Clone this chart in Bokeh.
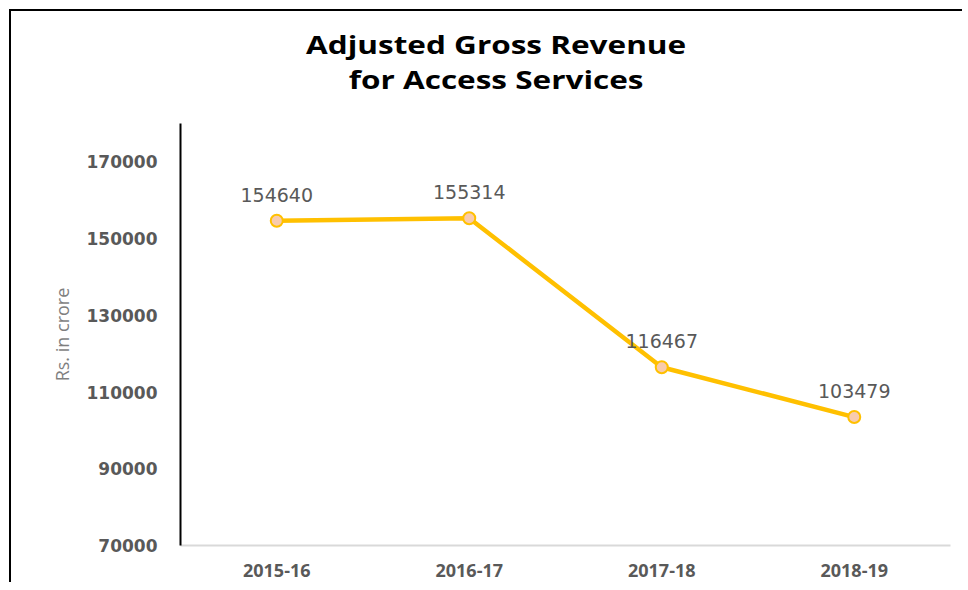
from bokeh.plotting import figure
from bokeh.models import (ColumnDataSource, LabelSet, FixedTicker, Range1d, FactorRange,
                          NumeralTickFormatter, Div)
from bokeh.layouts import column
from bokeh.core.properties import value
from bokeh.embed import file_html
from bokeh.resources import INLINE

years = ["2015-16", "2016-17", "2017-18", "2018-19"]
agr = [154640, 155314, 116467, 103479]
y_ticks = [70000, 90000, 110000, 130000, 150000, 170000]
title_lines = ["Adjusted Gross Revenue", "for Access Services"]
y_title = "Rs. in crore"

src = ColumnDataSource(dict(x=years, y=agr, lab=[str(v) for v in agr]))

W = 952
title_div = Div(
    text=('<div style="width:%dpx;box-sizing:border-box;padding-left:24px;padding-top:22px;'
          'text-align:center;font-family:\'Open Sans\';font-weight:bold;font-size:25px;'
          'line-height:35px;color:black;transform:scaleX(1.26);">%s<br>%s</div>')
         % (W, title_lines[0], title_lines[1]),
    width=W, height=100)

p = figure(width=W, height=472, x_range=FactorRange(*years, range_padding=0),
           y_range=Range1d(70000, 180000), output_backend="svg", toolbar_location=None,
           min_border_left=180, min_border_right=2, min_border_top=13, min_border_bottom=37)
p.outline_line_color = None
p.xgrid.grid_line_color = None
p.ygrid.grid_line_color = None
p.background_fill_color = None
p.border_fill_color = None

p.line("x", "y", source=src, line_color="#FFC000", line_width=4.5)
p.scatter("x", "y", source=src, size=12, fill_color="#F8CBAD", line_color="#FFC000", line_width=2)

labels = LabelSet(x="x", y="y", text="lab", source=src, text_align="center", text_baseline="middle",
                  y_offset=26, text_font=value("DejaVu Sans"), text_font_size="19px",
                  text_color="#595959")
p.add_layout(labels)

# y axis
p.yaxis.ticker = FixedTicker(ticks=y_ticks)
p.yaxis.formatter = NumeralTickFormatter(format="0")
p.yaxis.axis_line_color = "black"
p.yaxis.axis_line_width = 2
p.yaxis.major_tick_line_color = None
p.yaxis.minor_tick_line_color = None
p.yaxis.major_label_standoff = 17
p.yaxis.major_label_text_font = "DejaVu Sans"
p.yaxis.major_label_text_font_style = "bold"
p.yaxis.major_label_text_font_size = "17px"
p.yaxis.major_label_text_color = "#595959"
p.yaxis.axis_label = y_title
p.yaxis.axis_label_text_font = "Open Sans"
p.yaxis.axis_label_text_font_style = "normal"
p.yaxis.axis_label_text_font_size = "18px"
p.yaxis.axis_label_text_color = "#7F7F7F"
p.yaxis.axis_label_standoff = 10

# x axis
p.xaxis.axis_line_color = "#D9D9D9"
p.xaxis.axis_line_width = 2
p.xaxis.major_tick_line_color = None
p.xaxis.minor_tick_line_color = None
p.xaxis.major_label_standoff = 12
p.xaxis.major_label_text_font = "Open Sans"
p.xaxis.major_label_text_font_style = "bold"
p.xaxis.major_label_text_font_size = "18px"
p.xaxis.major_label_text_color = "#595959"

layout = column(title_div, p, spacing=0)
layout.styles = {
    "background": ("linear-gradient(#000,#000) 9px 9px / 2px 100% no-repeat, "
                   "linear-gradient(#000,#000) 9px 9px / 100% 2px no-repeat, white"),
}

open("out.html", "w").write(file_html(layout, INLINE))
